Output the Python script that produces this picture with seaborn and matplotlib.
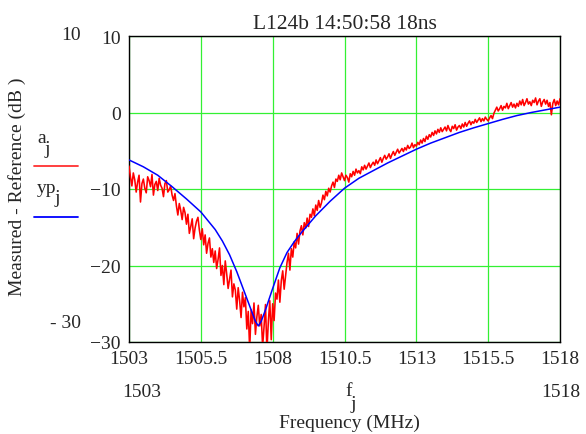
import numpy as np
import pandas as pd
import matplotlib
matplotlib.use("Agg")
import matplotlib.pyplot as plt
import seaborn as sns
from matplotlib.lines import Line2D

# ---------------- data ----------------
freq_start = 1503.0
freq_stop = 1518.0
measured_db = [
    -7.0, -8.4, -9.6, -7.9, -8.8, -10.4, -9.1, -8.2, -11.7, -9.3,
    -8.7, -9.9, -10.5, -8.4, -8.9, -9.7, -8.1, -10.8, -9.4, -9.0,
    -10.2, -8.6, -9.5, -9.9, -11.0, -9.3, -8.9, -10.4, -10.1, -9.6,
    -10.8, -11.5, -10.6, -12.2, -13.4, -11.9, -12.8, -14.0, -12.4, -13.1,
    -14.6, -13.3, -15.8, -14.9, -13.9, -16.5, -15.1, -14.2, -13.7, -15.4,
    -16.6, -15.2, -17.3, -16.0, -18.4, -17.1, -16.4, -18.9, -17.8, -19.6,
    -18.1, -20.4, -19.2, -17.7, -21.3, -20.0, -22.5, -19.4, -21.1, -23.0,
    -21.8, -20.6, -24.1, -22.4, -23.2, -25.7, -22.9, -24.6, -26.8, -23.5,
    -25.4, -24.2, -28.3, -26.0, -31.0, -25.8, -27.6, -24.9, -29.0, -26.7,
    -25.2, -27.9, -26.4, -30.6, -28.0, -25.1, -31.2, -27.3, -24.6, -29.7,
    -25.0, -27.2, -23.6, -24.4, -21.9, -24.8, -22.0, -20.7, -23.1, -21.4,
    -19.6, -18.4, -20.6, -17.8, -18.9, -16.9, -17.7, -15.8, -17.2, -15.5,
    -14.8, -16.0, -14.4, -15.1, -13.8, -14.9, -13.3, -13.7, -12.6, -13.5,
    -12.1, -12.8, -11.5, -12.4, -11.8, -10.8, -11.4, -10.3, -10.9, -9.9,
    -10.4, -9.6, -9.1, -9.8, -8.7, -9.0, -8.2, -8.8, -7.9, -8.4,
    -8.9, -8.2, -8.5, -9.1, -8.0, -8.4, -7.7, -8.2, -7.4, -7.9,
    -7.6, -8.0, -7.1, -7.5, -6.9, -7.4, -7.0, -6.6, -7.2, -6.8,
    -6.5, -6.9, -6.2, -6.7, -6.3, -5.9, -6.5, -6.0, -5.6, -6.1,
    -5.8, -5.4, -6.0, -5.5, -5.1, -5.6, -5.2, -4.8, -5.3, -5.0,
    -4.7, -5.1, -4.6, -4.9, -4.3, -4.7, -4.5, -4.0, -4.6, -4.2,
    -4.4, -3.9, -4.2, -3.6, -4.0, -3.4, -3.8, -3.1, -3.5, -2.9,
    -3.2, -2.6, -3.0, -2.4, -2.8, -2.2, -2.6, -2.0, -2.5, -2.2,
    -1.9, -2.4, -1.7, -2.2, -2.5, -1.8, -2.1, -1.6, -2.3, -1.9,
    -1.7, -2.1, -1.5, -1.9, -1.3, -1.8, -1.4, -1.1, -1.6, -1.2,
    -1.4, -0.9, -1.3, -1.0, -0.7, -1.2, -0.8, -1.1, -0.6, -0.9,
    -1.1, -0.7, -0.4, -0.8, -0.1, 0.3, 0.7, 0.2, 0.5, 0.9,
    0.3, 0.8, 0.6, 1.2, 0.5, 0.9, 1.3, 0.7, 1.1, 0.6,
    1.2, 0.8, 1.5, 1.0, 1.7, 0.9, 1.3, 1.8, 1.1, 1.4,
    0.9, 1.6, 1.3, 1.9, 1.0, 1.5, 1.8, 0.8, 1.4, 1.7,
    1.1, 1.6, 0.8, 1.3, -0.3, 1.2, 1.7, 0.9, 1.5, 1.0,
    1.8,
]
model_freq = [1503, 1503.5, 1504, 1504.5, 1505, 1505.5, 1506, 1506.25, 1506.5,
              1506.75, 1507, 1507.25, 1507.4, 1507.5, 1507.6, 1507.75, 1508,
              1508.25, 1508.5, 1508.75, 1509, 1509.5, 1510, 1510.5, 1511,
              1511.5, 1512, 1512.5, 1513, 1513.5, 1514, 1514.5, 1515, 1515.5,
              1516, 1516.5, 1517, 1517.5, 1518]
model_db = [-6.2, -7.1, -8.2, -9.7, -11.3, -13.0, -15.3, -16.8, -18.6,
            -20.8, -23.3, -25.8, -27.3, -27.9, -27.3, -25.8, -23.0,
            -20.3, -18.3, -16.9, -15.7, -13.5, -11.6, -9.9, -8.6,
            -7.6, -6.6, -5.7, -4.8, -4.0, -3.3, -2.6, -2.0, -1.45,
            -0.9, -0.4, 0.0, 0.35, 0.7]
x_ticks = [1503, 1505.5, 1508, 1510.5, 1513, 1515.5, 1518]
x_tick_labels = ["1503", "1505.5", "1508", "1510.5", "1513", "1515.5", "1518"]
y_ticks = [10, 0, -10, -20, -30]
y_tick_labels = ["10", "0", "\u221210", "\u221220", "\u221230"]
title_text = "L124b 14:50:58 18ns"
y_label = "Measured - Reference (dB )"
x_label = "Frequency (MHz)"

# ---------------- style ----------------
sns.set_style("white")
plt.rcParams["font.family"] = ["Liberation Serif", "DejaVu Serif"]
FS = 14

W, H = 586, 435
fig = plt.figure(figsize=(W / 100, H / 100), dpi=100)
L, R, T, B = 129, 560, 37, 343
ax = fig.add_axes([L / W, 1 - B / H, (R - L) / W, (B - T) / H])

meas_f = np.linspace(freq_start, freq_stop, len(measured_db))
df_meas = pd.DataFrame({"f": meas_f, "a": measured_db})
df_model = pd.DataFrame({"f": model_freq, "yp": model_db})

sns.lineplot(data=df_meas, x="f", y="a", ax=ax, color="#ff0000", lw=1.15,
             estimator=None, sort=False, zorder=3)
sns.lineplot(data=df_model, x="f", y="yp", ax=ax, color="#0000ff", lw=1.1,
             estimator=None, sort=False, zorder=4)

ax.set_xlim(freq_start, freq_stop)
ax.set_ylim(-30, 10)
ax.set_xticks(x_ticks)
ax.set_xticklabels(x_tick_labels, fontsize=FS)
ax.set_yticks(y_ticks)
ax.set_yticklabels(y_tick_labels, fontsize=FS)
ax.tick_params(length=0, pad=6)
ax.grid(True, color="#33f033", lw=0.9)
ax.set_axisbelow(True)
for s in ax.spines.values():
    s.set_color("black")
    s.set_linewidth(1.0)
ax.set_xlabel("")
ax.set_ylabel("")
ax.set_title(title_text, fontsize=15.5, pad=6)

def px(x, y):
    return x / W, 1 - y / H

# extra Mathcad-style labels
fig.text(*px(81, 40), "10", fontsize=FS, ha="right", va="baseline")
fig.text(*px(81, 328), "- 30", fontsize=FS, ha="right", va="baseline")
fig.text(*px(122, 397), "1503", fontsize=FS, ha="left", va="baseline")
fig.text(*px(580, 397), "1518", fontsize=FS, ha="right", va="baseline")
fig.text(*px(345, 396), "f", fontsize=FS, ha="left", va="baseline")
fig.text(*px(350, 409), "j", fontsize=FS, ha="left", va="baseline")
fig.text(*px(349, 428), x_label, fontsize=FS, ha="center", va="baseline")
fig.text(*px(17, 187), y_label, fontsize=FS, ha="center", va="center",
         rotation=90)

# legend
fig.text(*px(37, 143), "a", fontsize=FS, ha="left", va="baseline")
fig.text(*px(45, 154), "j", fontsize=FS, ha="left", va="baseline")
fig.add_artist(Line2D([34 / W, 78 / W], [1 - 167 / H, 1 - 167 / H],
                      color="#ff3030", lw=1.3, transform=fig.transFigure))
fig.text(*px(37, 193), "yp", fontsize=FS, ha="left", va="baseline")
fig.text(*px(55, 203), "j", fontsize=FS, ha="left", va="baseline")
fig.add_artist(Line2D([34 / W, 78 / W], [1 - 218 / H, 1 - 218 / H],
                      color="#0000ff", lw=1.3, transform=fig.transFigure))

fig.savefig("out.png", dpi=100)
